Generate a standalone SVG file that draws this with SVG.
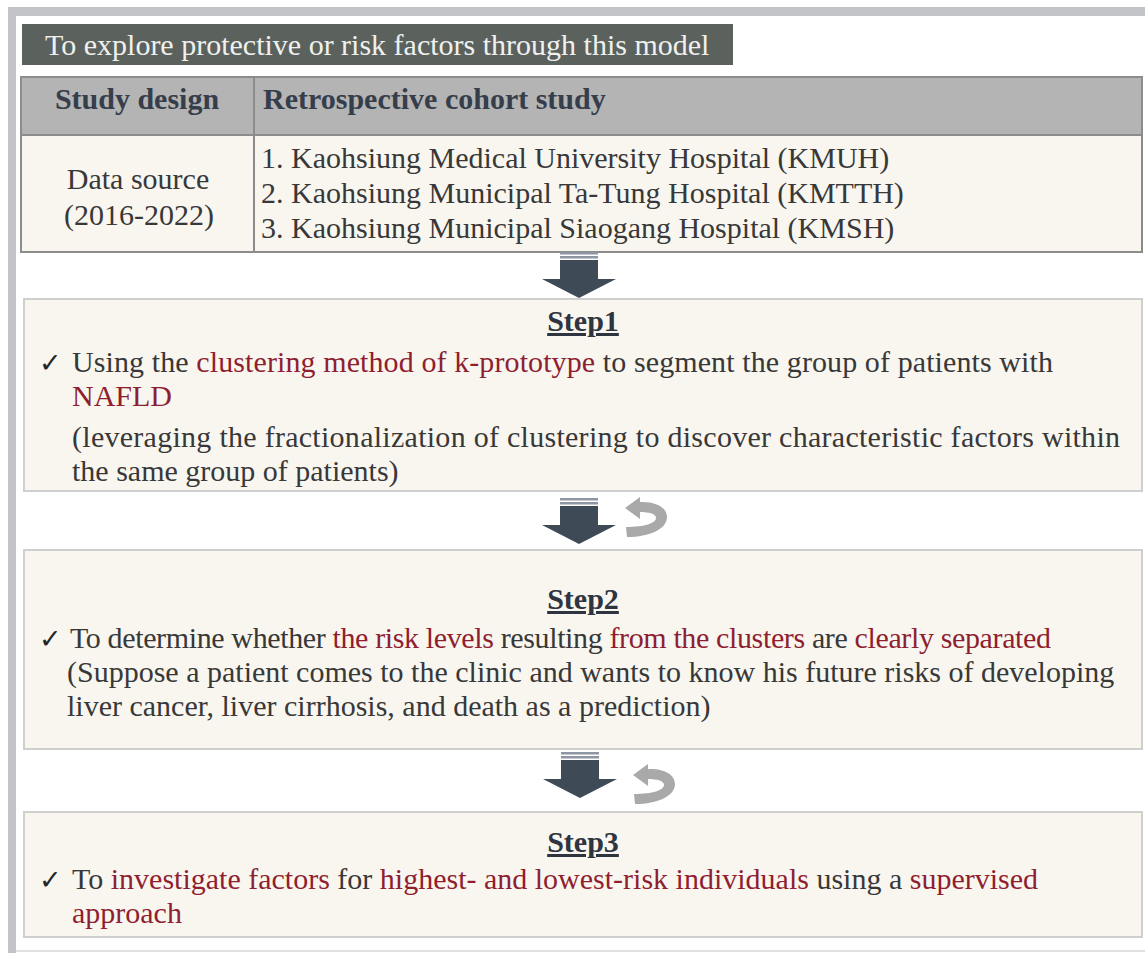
<svg xmlns="http://www.w3.org/2000/svg" width="1145" height="953" viewBox="0 0 1145 953">
<style>
  text { font-family: "Liberation Serif", "Times New Roman", serif; font-size: 30px; fill: #383838; }
  .hdr { fill: #f0f0ee; }
  .th { font-weight: bold; fill: #363d4b; }
  .title { font-weight: bold; fill: #2e3440; text-decoration: underline; }
  .red { fill: #8f1f30; }
  .chk { font-family: "DejaVu Sans", sans-serif; font-size: 27px; fill: #262626; }
  .box { fill: #f9f6f0; stroke: #cfcfcf; stroke-width: 2; }
  .arrow { fill: #3f4a57; }
  .stripe { fill: #8d96a2; }
  .curl { fill: #a9a9a9; }
</style>
<defs>
  <g id="bigArrow">
    <rect x="18" y="0" width="38" height="2.5" class="stripe"/>
    <rect x="18" y="4" width="38" height="2.5" class="stripe"/>
    <rect x="18" y="8" width="38" height="20" class="arrow"/>
    <polygon points="0,27 74,27 37,46" class="arrow"/>
  </g>
  <g id="curl">
    <path d="M14 5 C30 4 42 10 42 20 C42 32 25 40 2 40 L1 30 C20 30 31 26 31 21 C31 17 25 15 14 15 Z" class="curl"/>
    <polygon points="0,11 15,0 15,22" class="curl"/>
  </g>
</defs>
<rect width="1145" height="953" fill="#ffffff"/>
<!-- frame -->
<rect x="8" y="7" width="1137" height="9" fill="#c3c4c8"/>
<rect x="8" y="7" width="8" height="946" fill="#c3c4c8"/>
<line x1="16" y1="951" x2="1145" y2="951" stroke="#d6d6d6" stroke-width="1.5"/>

<g id="header">
  <rect x="22" y="24" width="711" height="41" fill="#5b625e"/>
  <text x="45" y="55" class="hdr">To explore protective or risk factors through this model</text>
</g>

<g id="table">
  <rect x="21" y="77" width="1121" height="58" fill="#b3b4b3" stroke="#8c8c8c" stroke-width="2"/>
  <rect x="21" y="135" width="1121" height="117" fill="#f9f6f0" stroke="#8c8c8c" stroke-width="2"/>
  <line x1="254" y1="77" x2="254" y2="252" stroke="#8c8c8c" stroke-width="2"/>
  <text x="137" y="109" class="th" text-anchor="middle">Study design</text>
  <text x="263" y="109" class="th">Retrospective cohort study</text>
  <text x="138" y="189" text-anchor="middle">Data source</text>
  <text x="139" y="225" text-anchor="middle">(2016-2022)</text>
  <text x="261" y="168">1. Kaohsiung Medical University Hospital (KMUH)</text>
  <text x="261" y="203">2. Kaohsiung Municipal Ta-Tung Hospital (KMTTH)</text>
  <text x="261" y="238">3. Kaohsiung Municipal Siaogang Hospital (KMSH)</text>
</g>

<g id="connectors">
  <use href="#bigArrow" x="542" y="252"/>
  <use href="#bigArrow" x="542" y="498"/>
  <use href="#curl" x="625" y="497"/>
  <use href="#bigArrow" x="543" y="752"/>
  <use href="#curl" x="633" y="764"/>
</g>

<g id="step1">
  <rect x="24" y="299" width="1118" height="192" class="box"/>
  <text x="583" y="331" class="title" text-anchor="middle">Step1</text>
  <text x="39" y="372" class="chk">✓</text>
  <text x="72" y="372" textLength="981" lengthAdjust="spacing">Using the <tspan class="red">clustering method of k-prototype</tspan> to segment the group of patients with</text>
  <text x="72" y="406" class="red">NAFLD</text>
  <text x="72" y="447" textLength="1048" lengthAdjust="spacing">(leveraging the fractionalization of clustering to discover characteristic factors within</text>
  <text x="72" y="481">the same group of patients)</text>
</g>

<g id="step2">
  <rect x="24" y="550" width="1118" height="199" class="box"/>
  <text x="583" y="609" class="title" text-anchor="middle">Step2</text>
  <text x="39" y="648" class="chk">✓</text>
  <text x="70" y="648" textLength="981" lengthAdjust="spacing">To determine whether <tspan class="red">the risk levels</tspan> resulting <tspan class="red">from the clusters</tspan> are <tspan class="red">clearly separated</tspan></text>
  <text x="67" y="682">(Suppose a patient comes to the clinic and wants to know his future risks of developing</text>
  <text x="67" y="716">liver cancer, liver cirrhosis, and death as a prediction)</text>
</g>

<g id="step3">
  <rect x="24" y="812" width="1118" height="125" class="box"/>
  <text x="583" y="852" class="title" text-anchor="middle">Step3</text>
  <text x="39" y="889" class="chk">✓</text>
  <text x="72" y="889">To <tspan class="red">investigate factors</tspan> for <tspan class="red">highest- and lowest-risk individuals</tspan> using a <tspan class="red">supervised</tspan></text>
  <text x="72" y="923" class="red">approach</text>
</g>
</svg>
